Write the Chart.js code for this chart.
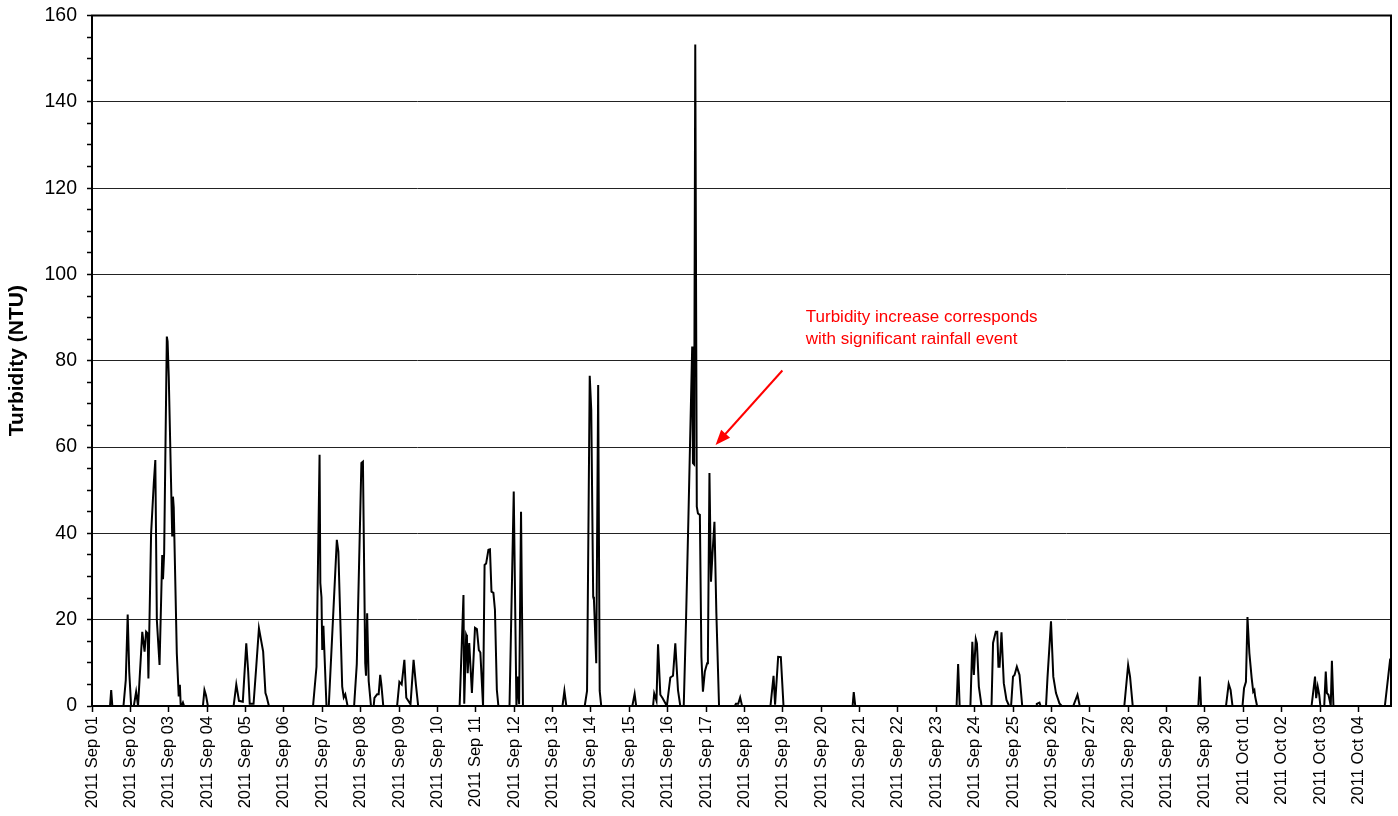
<!DOCTYPE html>
<html>
<head>
<meta charset="utf-8">
<title>Turbidity</title>
<script src="https://cdn.jsdelivr.net/npm/chart.js@4.4.0/dist/chart.umd.min.js"></script>
<style>
  body { margin: 0; background: #fff; }
  #wrap { width: 1398px; height: 816px; position: relative; }
</style>
</head>
<body>
<div id="wrap"><canvas id="chart"></canvas></div>
<script>
// x tick labels, one per day starting 2011 Sep 01
var dayLabels = [
  "2011 Sep 01", "2011 Sep 02", "2011 Sep 03", "2011 Sep 04", "2011 Sep 05",
  "2011 Sep 06", "2011 Sep 07", "2011 Sep 08", "2011 Sep 09", "2011 Sep 10",
  "2011 Sep 11", "2011 Sep 12", "2011 Sep 13", "2011 Sep 14", "2011 Sep 15",
  "2011 Sep 16", "2011 Sep 17", "2011 Sep 18", "2011 Sep 19", "2011 Sep 20",
  "2011 Sep 21", "2011 Sep 22", "2011 Sep 23", "2011 Sep 24", "2011 Sep 25",
  "2011 Sep 26", "2011 Sep 27", "2011 Sep 28", "2011 Sep 29", "2011 Sep 30",
  "2011 Oct 01", "2011 Oct 02", "2011 Oct 03", "2011 Oct 04"
];

// sample times, in days since 2011 Sep 01 00:00
var sampleDays = [
  0, 0.47, 0.50, 0.53, 0.82, 0.88, 0.93, 0.97, 1.02, 1.09, 1.15, 1.20,
  1.22, 1.31, 1.37, 1.41, 1.45, 1.47, 1.54, 1.61, 1.65, 1.69, 1.76, 1.83,
  1.85, 1.88, 1.95, 1.97, 2.00, 2.09, 2.11, 2.13, 2.21, 2.26, 2.29, 2.31,
  2.33, 2.37, 2.40,
  2.89, 2.93, 2.97, 3.02,
  3.69, 3.76, 3.83, 3.93, 4.02, 4.07, 4.11, 4.21, 4.28, 4.35, 4.46, 4.52,
  4.55, 4.61,
  5.76, 5.85, 5.93, 5.95, 5.98, 6.00, 6.03, 6.11, 6.17, 6.38, 6.42, 6.52,
  6.56, 6.60, 6.66, 6.83, 6.90, 7.02, 7.06, 7.12, 7.14, 7.17, 7.21, 7.27,
  7.34, 7.36, 7.43, 7.47, 7.51, 7.54, 7.59,
  7.95, 8.01, 8.07, 8.14, 8.19, 8.30, 8.38, 8.44, 8.50,
  9.58, 9.68, 9.70, 9.75, 9.77, 9.79, 9.83, 9.90, 9.98, 10.03, 10.08, 10.12,
  10.19, 10.23, 10.27, 10.33, 10.37, 10.41, 10.46, 10.50, 10.55, 10.59,
  10.88, 10.99, 11.06, 11.10, 11.13, 11.18, 11.23,
  12.26, 12.31, 12.36,
  12.84, 12.90, 12.97, 13.01, 13.06, 13.08, 13.14, 13.19, 13.23, 13.27,
  14.08, 14.14, 14.18,
  14.62, 14.65, 14.71, 14.75, 14.81, 14.87, 14.98, 15.07, 15.14, 15.20,
  15.27, 15.33, 15.42, 15.48, 15.54, 15.64, 15.66, 15.69, 15.72, 15.76,
  15.79, 15.84, 15.88, 15.92, 15.97, 16.03, 16.05, 16.09, 16.13, 16.17,
  16.22, 16.27, 16.34,
  16.75, 16.78, 16.84, 16.89, 16.94,
  17.68, 17.76, 17.80, 17.88, 17.95, 18.02,
  19.82, 19.85, 19.89,
  22.53, 22.57, 22.61, 22.89, 22.94, 22.98, 23.03, 23.06, 23.11, 23.18,
  23.44, 23.48, 23.55, 23.59, 23.62, 23.65, 23.70, 23.76, 23.83, 23.90,
  23.95, 24.00, 24.04, 24.10, 24.17, 24.24,
  24.60, 24.62, 24.69, 24.72, 24.86, 24.90, 24.99, 25.05, 25.12, 25.21, 25.27,
  25.57, 25.68, 25.74,
  26.90, 27.00, 27.05, 27.12,
  28.83, 28.87, 28.90,
  29.55, 29.62, 29.67, 29.72,
  29.98, 30.02, 30.07, 30.11, 30.16, 30.22, 30.26, 30.29, 30.31, 30.36,
  31.78, 31.87, 31.90, 31.94, 31.98, 32.01, 32.11, 32.15, 32.18, 32.22,
  32.25, 32.28, 32.31, 32.35,
  33.69, 33.83
];

// turbidity (NTU) at each sample time
var turbidity = [
  0, 0, 3.7, 0, 0, 6, 21.2, 8, 0, 0, 3.3, 0,
  0, 17.2, 12.6, 17.2, 16.8, 6.4, 40, 51.6, 57.0, 19.9, 9.5, 35,
  29.4, 35.4, 85.6, 84.5, 76.4, 39.5, 48.5, 46, 12.2, 2.2, 4.9, 0.4,
  0, 0.8, 0,
  0, 3.7, 2.5, 0,
  0, 5.0, 1.2, 1.0, 14.5, 8, 0.5, 0.5, 9.1, 18.0, 12.6, 3.0,
  2.2, 0,
  0, 9.1, 58.2, 28.5, 25.2, 13, 18.6, 0, 0, 38.5, 35.8, 4.5,
  2, 2.7, 0, 0, 9.7, 56.3, 56.6, 9.9, 7, 21.5, 5.8, 0,
  0, 1.9, 2.7, 2.7, 7.2, 5, 0,
  0, 5.6, 5, 10.7, 1.9, 0.4, 10.7, 5, 0,
  0, 25.7, 0.5, 16.5, 16, 7.6, 14.6, 3, 18.1, 17.8, 13, 12.4,
  0, 32.7, 33, 36.2, 36.3, 26.5, 26.2, 22.3, 3.7, 0,
  0, 49.7, 0, 6.8, 0.4, 45, 0,
  0, 3.5, 0,
  0, 3.5, 76.5, 68.6, 25.3, 24.6, 9.9, 74.4, 3.5, 0,
  0, 2.8, 0,
  0, 2.9, 1.2, 14.3, 2.6, 1.8, 0, 6.6, 7, 14.5,
  3.7, 0, 0, 20, 43, 83.3, 56.3, 56, 153.3, 46.2,
  44.6, 44.3, 11.4, 3.3, 8, 9.9, 11.8, 54, 28.8, 35.4,
  42.7, 21.5, 0,
  0, 0.5, 0.5, 2, 0,
  0, 7, 0.3, 11.4, 11.3, 0,
  0, 3.2, 0,
  0, 9.7, 0, 0, 14.9, 7.2, 15.5, 14.5, 4.5, 0,
  0, 14.6, 17.2, 17.2, 9.1, 9.1, 17.1, 5.3, 1.4, 0,
  0, 6.8, 7.2, 9.1, 7.2, 0,
  0, 0.5, 0.8, 0, 0, 6.8, 19.6, 6.8, 3, 0.6, 0,
  0, 2.6, 0,
  0, 9.5, 6.8, 0,
  0, 6.8, 0,
  0, 5.1, 3.7, 0,
  0, 4.1, 5.6, 20.6, 12.2, 6.4, 3.3, 3.7, 2.2, 0,
  0, 6.8, 1.8, 4.5, 2.6, 0, 0, 8, 3, 2.6,
  1.4, 0, 10.5, 0,
  0, 11
];

var noteLines = ["Turbidity increase corresponds", "with significant rainfall event"];

var fontFamily = "'Liberation Sans', Arial, Helvetica, sans-serif";

// draws the box round the plot and the red note with its arrow
var framePlugin = {
  id: "frame",
  afterDraw: function (chart) {
    var ctx = chart.ctx;
    var a = chart.chartArea;
    var xs = chart.scales.x;
    var ys = chart.scales.y;
    ctx.save();
    ctx.strokeStyle = "#000";
    ctx.lineWidth = 2;
    ctx.strokeRect(a.left, a.top, a.right - a.left, a.bottom - a.top);

    // note text
    ctx.fillStyle = "#ff0000";
    ctx.font = "17px " + fontFamily;
    ctx.textAlign = "left";
    ctx.textBaseline = "middle";
    ctx.fillText(noteLines[0], xs.getPixelForValue(18.6), ys.getPixelForValue(90.1));
    ctx.fillText(noteLines[1], xs.getPixelForValue(18.6), ys.getPixelForValue(85.0));

    // arrow
    var x1 = xs.getPixelForValue(17.99), y1 = ys.getPixelForValue(77.75);
    var x2 = xs.getPixelForValue(16.25), y2 = ys.getPixelForValue(60.5);
    var ang = Math.atan2(y2 - y1, x2 - x1);
    var head = 15, wide = 6;
    ctx.strokeStyle = "#ff0000";
    ctx.lineWidth = 2;
    ctx.beginPath();
    ctx.moveTo(x1, y1);
    ctx.lineTo(x2 - Math.cos(ang) * head * 0.8, y2 - Math.sin(ang) * head * 0.8);
    ctx.stroke();
    ctx.beginPath();
    ctx.moveTo(x2, y2);
    ctx.lineTo(x2 - Math.cos(ang) * head + Math.sin(ang) * wide, y2 - Math.sin(ang) * head - Math.cos(ang) * wide);
    ctx.lineTo(x2 - Math.cos(ang) * head - Math.sin(ang) * wide, y2 - Math.sin(ang) * head + Math.cos(ang) * wide);
    ctx.closePath();
    ctx.fill();
    ctx.restore();
  }
};

var points = sampleDays.map(function (d, i) {
  return { x: d, y: turbidity[i] };
});

var chart = new Chart(document.getElementById("chart"), {
  type: "line",
  data: {
    datasets: [{
      label: "Turbidity",
      data: points,
      borderColor: "#000",
      borderWidth: 2,
      pointRadius: 0,
      tension: 0,
      fill: false
    }]
  },
  options: {
    responsive: true,
    maintainAspectRatio: false,
    animation: false,
    layout: { padding: { top: 15.5, right: 7, left: 0, bottom: 0 } },
    plugins: {
      legend: { display: false },
      tooltip: { enabled: false }
    },
    scales: {
      x: {
        type: "linear",
        min: 0,
        max: 33.85,
        afterBuildTicks: function (scale) {
          scale.ticks = dayLabels.map(function (l, i) { return { value: i }; });
        },
        afterFit: function (scale) {
          scale.height = 110;
          scale.paddingLeft = 0;
          scale.paddingRight = 0;
        },
        grid: {
          drawOnChartArea: false,
          color: "#000",
          tickLength: 6,
          tickWidth: 1.5
        },
        border: { color: "#000", width: 2 },
        ticks: {
          autoSkip: false,
          maxRotation: 90,
          minRotation: 90,
          padding: 4,
          color: "#000",
          font: { family: fontFamily, size: 16.5 },
          callback: function (value) { return dayLabels[value]; }
        }
      },
      y: {
        min: 0,
        max: 160,
        afterFit: function (scale) {
          scale.width = 92;
          scale.paddingTop = 0;
          scale.paddingBottom = 0;
        },
        grid: {
          color: function (c) { return c.tick && c.tick.value % 20 === 0 ? "#222" : "rgba(0,0,0,0)"; },
          tickColor: "#000",
          tickLength: 5,
          tickWidth: 1.5,
          lineWidth: 1
        },
        border: { color: "#000", width: 2 },
        title: {
          display: true,
          text: "Turbidity (NTU)",
          color: "#000",
          font: { family: fontFamily, size: 21, weight: "bold" },
          padding: { top: 5, bottom: 0 }
        },
        ticks: {
          stepSize: 5,
          autoSkip: false,
          padding: 10,
          color: "#000",
          font: { family: fontFamily, size: 19.5 },
          callback: function (value) { return value % 20 === 0 ? value : ""; }
        }
      }
    }
  },
  plugins: [framePlugin]
});
</script>
</body>
</html>
